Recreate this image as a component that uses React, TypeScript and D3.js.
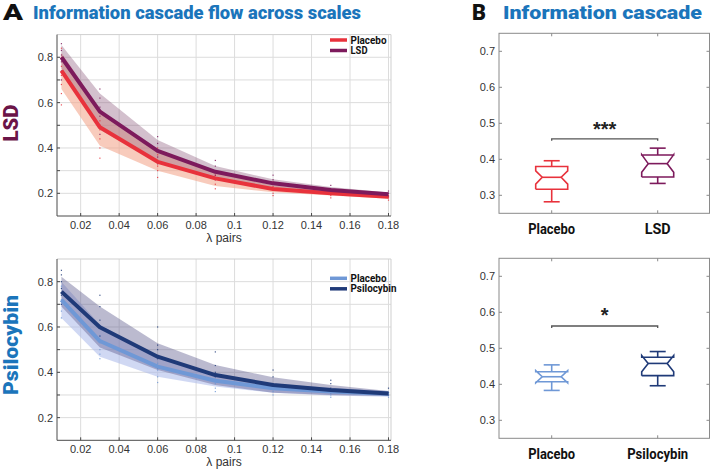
import React from "react";
import * as d3 from "d3";

// ---------- DATA ----------
const lambdaPairs = [0.01, 0.03, 0.06, 0.09, 0.12, 0.15, 0.18];
const xTickValues = [0.02, 0.04, 0.06, 0.08, 0.1, 0.12, 0.14, 0.16, 0.18];
const xTickLabels = ["0.02", "0.04", "0.06", "0.08", "0.1", "0.12", "0.14", "0.16", "0.18"];
const yGridValues = [0.2, 0.3, 0.4, 0.5, 0.6, 0.7, 0.8];
const yTickLabelValues = [0.2, 0.4, 0.6, 0.8];

// LSD panel
const lsdPlaceboMean = [0.741, 0.491, 0.339, 0.266, 0.219, 0.2, 0.185];
const lsdPlaceboLo = [0.66, 0.41, 0.3, 0.232, 0.205, 0.19, 0.176];
const lsdPlaceboHi = [0.82, 0.57, 0.38, 0.3, 0.234, 0.21, 0.193];
const lsdDrugMean = [0.8, 0.56, 0.387, 0.295, 0.244, 0.215, 0.196];
const lsdDrugLo = [0.75, 0.48, 0.34, 0.27, 0.226, 0.2, 0.188];
const lsdDrugHi = [0.854, 0.64, 0.435, 0.32, 0.262, 0.228, 0.204];
const lsdPlaceboPts = [
  [0.59, 0.64, 0.68, 0.72, 0.76, 0.8, 0.84],
  [0.355, 0.4, 0.44, 0.48, 0.52, 0.56],
  [0.27, 0.3, 0.32, 0.34, 0.37, 0.4],
  [0.22, 0.24, 0.26, 0.28, 0.3],
  [0.19, 0.2, 0.215, 0.23, 0.25],
  [0.18, 0.19, 0.2, 0.21],
  [0.17, 0.18, 0.19],
];
const lsdDrugPts = [
  [0.7, 0.74, 0.78, 0.81, 0.83, 0.86],
  [0.46, 0.5, 0.54, 0.58, 0.62, 0.66],
  [0.33, 0.36, 0.39, 0.42, 0.45],
  [0.26, 0.28, 0.3, 0.32, 0.345],
  [0.22, 0.24, 0.26, 0.28],
  [0.2, 0.22, 0.235],
  [0.185, 0.2, 0.21],
];

// Psilocybin panel
const psiPlaceboMean = [0.72, 0.538, 0.425, 0.363, 0.33, 0.315, 0.305];
const psiPlaceboLo = [0.64, 0.469, 0.38, 0.337, 0.31, 0.298, 0.292];
const psiPlaceboHi = [0.8, 0.61, 0.47, 0.39, 0.35, 0.332, 0.318];
const psiDrugMean = [0.756, 0.599, 0.469, 0.388, 0.344, 0.322, 0.307];
const psiDrugLo = [0.69, 0.51, 0.41, 0.344, 0.31, 0.3, 0.296];
const psiDrugHi = [0.822, 0.69, 0.528, 0.432, 0.378, 0.344, 0.318];
const psiPlaceboPts = [
  [0.64, 0.67, 0.7, 0.72, 0.75, 0.78],
  [0.46, 0.48, 0.5, 0.53, 0.56],
  [0.355, 0.38, 0.41, 0.44, 0.47],
  [0.315, 0.33, 0.35, 0.37, 0.39],
  [0.3, 0.315, 0.33, 0.345],
  [0.29, 0.3, 0.31, 0.32],
  [0.29, 0.3, 0.31],
];
const psiDrugPts = [
  [0.7, 0.74, 0.77, 0.8, 0.83, 0.85],
  [0.56, 0.6, 0.63, 0.69, 0.74],
  [0.42, 0.46, 0.5, 0.52, 0.6],
  [0.36, 0.38, 0.4, 0.43, 0.49],
  [0.33, 0.35, 0.38, 0.41],
  [0.31, 0.33, 0.35, 0.365],
  [0.3, 0.31, 0.33],
];

// Box plots (panel B)
const lsdBoxCategories = ["Placebo", "LSD"];
const lsdBoxes = [
  { min: 0.282, q1: 0.317, nLo: 0.331, med: 0.35, nHi: 0.368, q3: 0.38, max: 0.396 },
  { min: 0.333, q1: 0.351, nLo: 0.364, med: 0.388, nHi: 0.413, q3: 0.412, max: 0.431 },
];
const psiBoxCategories = ["Placebo", "Psilocybin"];
const psiBoxes = [
  { min: 0.383, q1: 0.407, nLo: 0.404, med: 0.421, nHi: 0.438, q3: 0.435, max: 0.454 },
  { min: 0.396, q1: 0.424, nLo: 0.435, med: 0.458, nHi: 0.48, q3: 0.475, max: 0.491 },
];
const boxYTicks = [0.3, 0.4, 0.5, 0.6, 0.7];
const lsdSig = { y: 0.457, label: "***" };
const psiSig = { y: 0.562, label: "*" };

// ---------- STYLE ----------
const TITLE_BLUE = "#1b75bb";
const LSD_LABEL = "#6b1548";
const RED = "#e8323c";
const PURPLE = "#7d1a5c";
const LBLUE = "#6f98d6";
const DBLUE = "#1f3a78";
const COND = "'Roboto', 'Liberation Sans', sans-serif";
const SANS = "'Liberation Sans', Arial, sans-serif";

// approximate text widths (px) of condensed labels in the reference
const labelWidth: Record<string, number> = { Placebo: 47, LSD: 26, Psilocybin: 61 };
const legendWidth: Record<string, number> = { Placebo: 36, LSD: 17, Psilocybin: 46 };

type Series = { mean: number[]; lo: number[]; hi: number[]; pts: number[][]; color: string; band: string; bandOpacity: number; name: string };

function LinePanel({ top, bottom, series, legendY }: { top: number; bottom: number; series: Series[]; legendY: number }) {
  const x = d3.scaleLinear().domain([0.0077, 0.1813]).range([57, 391]);
  const y = d3.scaleLinear().domain([0.1, 0.9]).range([bottom, top]);
  const line = d3
    .line<number>()
    .x((_, i) => x(lambdaPairs[i]))
    .y((d) => y(d));
  const x0 = 57, x1 = 391;
  return (
    <g>
      <rect x={x0} y={top} width={x1 - x0} height={bottom - top} fill="#fff" />
      {xTickValues.map((t) => (
        <line key={"gx" + t} x1={x(t)} x2={x(t)} y1={top} y2={bottom} stroke="#dcdcdc" strokeWidth={1} />
      ))}
      {yGridValues.map((t) => (
        <line key={"gy" + t} x1={x0} x2={x1} y1={y(t)} y2={y(t)} stroke="#dcdcdc" strokeWidth={1} />
      ))}
      <line x1={x0} x2={x1} y1={top} y2={top} stroke="#cfcfcf" />
      <line x1={x1} x2={x1} y1={top} y2={bottom} stroke="#cfcfcf" />
      {series.map((s) => {
        const a = d3
          .area<number>()
          .x((_, i) => x(lambdaPairs[i]))
          .y0((_, i) => y(s.lo[i]))
          .y1((_, i) => y(s.hi[i]));
        return <path key={"b" + s.name} d={a(s.mean) || ""} fill={s.band} fillOpacity={s.bandOpacity} stroke="none" />;
      })}
      {series.map((s) =>
        s.pts.map((arr, i) =>
          arr.map((v, j) => (
            <rect key={s.name + i + "-" + j} x={x(lambdaPairs[i]) - 0.6} y={y(v) - 0.6} width={1.2} height={1.2} fill={s.color} opacity={0.85} />
          ))
        )
      )}
      {series.map((s) => (
        <path key={"l" + s.name} d={line(s.mean) || ""} fill="none" stroke={s.color} strokeWidth={4} strokeLinejoin="round" />
      ))}
      <line x1={x0} x2={x0} y1={top} y2={bottom} stroke="#4a4a4a" strokeWidth={1} />
      <line x1={x0} x2={x1} y1={bottom} y2={bottom} stroke="#4a4a4a" strokeWidth={1} />
      {xTickValues.map((t, i) => (
        <g key={"xt" + t}>
          <line x1={x(t)} x2={x(t)} y1={bottom} y2={bottom - 3} stroke="#4a4a4a" />
          <text x={x(t)} y={bottom + 13} textAnchor="middle" fontFamily={SANS} fontSize={11} fill="#333">
            {xTickLabels[i]}
          </text>
        </g>
      ))}
      {yGridValues.map((t) => (
        <line key={"yt" + t} x1={x0} x2={x0 + 3} y1={y(t)} y2={y(t)} stroke="#4a4a4a" />
      ))}
      {yTickLabelValues.map((t) => (
        <text key={"yl" + t} x={53} y={y(t) + 4} textAnchor="end" fontFamily={SANS} fontSize={11} fill="#333">
          {d3.format(".1f")(t)}
        </text>
      ))}
      <text x={224} y={bottom + 26} textAnchor="middle" fontFamily={SANS} fontSize={12} fill="#333">
        λ pairs
      </text>
      {series.map((s, i) => (
        <g key={"lg" + s.name}>
          <line x1={330} x2={347} y1={legendY + i * 10.5} y2={legendY + i * 10.5} stroke={s.color} strokeWidth={3.5} />
          <text
            x={350.5}
            y={legendY + i * 10.5 + 3.6}
            fontFamily={COND}
            fontWeight="bold"
            fontSize={10}
            fill="#111"
            textLength={legendWidth[s.name]}
            lengthAdjust="spacingAndGlyphs"
          >
            {s.name}
          </text>
        </g>
      ))}
    </g>
  );
}

type Box = { min: number; q1: number; nLo: number; med: number; nHi: number; q3: number; max: number };

function BoxPanel({ top, bottom, cats, boxes, colors, sig, sigLabelY }: { top: number; bottom: number; cats: string[]; boxes: Box[]; colors: string[]; sig: { y: number; label: string }; sigLabelY: number }) {
  const x0 = 499, x1 = 709.5;
  const xb = d3.scalePoint<string>().domain(cats).range([551.7, 657.7]);
  const y = d3.scaleLinear().domain([0.25, 0.75]).range([bottom, top]);
  const hw = 16, inset = 6.5, cap = 8;
  return (
    <g>
      <rect x={x0} y={top} width={x1 - x0} height={bottom - top} fill="none" stroke="#8a8a8a" strokeWidth={1} />
      {boxYTicks.map((t) => (
        <g key={"t" + t}>
          <line x1={x0} x2={x0 + 3} y1={y(t)} y2={y(t)} stroke="#8a8a8a" />
          <line x1={x1} x2={x1 - 3} y1={y(t)} y2={y(t)} stroke="#8a8a8a" />
          <text x={495} y={y(t) + 4} textAnchor="end" fontFamily={SANS} fontSize={11} fill="#333">
            {d3.format(".1f")(t)}
          </text>
        </g>
      ))}
      {cats.map((c, i) => {
        const cx = xb(c) as number;
        const b = boxes[i];
        const L = cx - hw, R = cx + hw;
        const pts: [number, number][] = [
          [L, y(b.q1)], [L, y(b.nLo)], [L + inset, y(b.med)], [L, y(b.nHi)], [L, y(b.q3)],
          [R, y(b.q3)], [R, y(b.nHi)], [R - inset, y(b.med)], [R, y(b.nLo)], [R, y(b.q1)], [L, y(b.q1)],
        ];
        const p = d3.line()(pts) || "";
        return (
          <g key={c} stroke={colors[i]} strokeWidth={1.6} fill="none">
            <line x1={cx} x2={cx} y1={bottom} y2={bottom - 3} stroke="#8a8a8a" strokeWidth={1} />
            <line x1={cx} x2={cx} y1={top} y2={top + 3} stroke="#8a8a8a" strokeWidth={1} />
            <path d={p} />
            <line x1={L + inset} x2={R - inset} y1={y(b.med)} y2={y(b.med)} />
            <line x1={cx} x2={cx} y1={y(b.q3)} y2={y(b.max)} />
            <line x1={cx} x2={cx} y1={y(b.q1)} y2={y(b.min)} />
            <line x1={cx - cap} x2={cx + cap} y1={y(b.max)} y2={y(b.max)} />
            <line x1={cx - cap} x2={cx + cap} y1={y(b.min)} y2={y(b.min)} />
            <text
              x={cx}
              y={bottom + 21}
              textAnchor="middle"
              fontFamily={COND}
              fontWeight="bold"
              fontSize={15}
              fill="#111"
              stroke="none"
              textLength={labelWidth[c]}
              lengthAdjust="spacingAndGlyphs"
            >
              {c}
            </text>
          </g>
        );
      })}
      <path
        d={`M${xb(cats[0])},${y(sig.y) + 2}V${y(sig.y)}H${xb(cats[1])}V${y(sig.y) + 2}`}
        fill="none"
        stroke="#555"
        strokeWidth={1.3}
      />
      <text x={((xb(cats[0]) as number) + (xb(cats[1]) as number)) / 2} y={sigLabelY} textAnchor="middle" fontFamily={SANS} fontWeight="bold" fontSize={20} fill="#222">
        {sig.label}
      </text>
    </g>
  );
}

export default function App() {
  const lsdSeries: Series[] = [
    { name: "Placebo", mean: lsdPlaceboMean, lo: lsdPlaceboLo, hi: lsdPlaceboHi, pts: lsdPlaceboPts, color: RED, band: "#f3a88f", bandOpacity: 0.6 },
    { name: "LSD", mean: lsdDrugMean, lo: lsdDrugLo, hi: lsdDrugHi, pts: lsdDrugPts, color: PURPLE, band: "#8c5a7c", bandOpacity: 0.38 },
  ];
  const psiSeries: Series[] = [
    { name: "Placebo", mean: psiPlaceboMean, lo: psiPlaceboLo, hi: psiPlaceboHi, pts: psiPlaceboPts, color: LBLUE, band: "#a9b8ea", bandOpacity: 0.55 },
    { name: "Psilocybin", mean: psiDrugMean, lo: psiDrugLo, hi: psiDrugHi, pts: psiDrugPts, color: DBLUE, band: "#5c5a8c", bandOpacity: 0.42 },
  ];
  return (
    <div style={{ position: "absolute", left: 0, top: 0 }}>
      <svg width={711} height={470} style={{ display: "block", background: "#fff" }}>
        <text x={3} y={20} fontFamily={COND} fontWeight="900" fontSize={22} fill="#111" textLength={20} lengthAdjust="spacingAndGlyphs">A</text>
        <text x={33} y={19} fontFamily={COND} fontWeight="900" fontSize={19} fill={TITLE_BLUE} textLength={328} lengthAdjust="spacingAndGlyphs">
          Information cascade flow across scales
        </text>
        <text x={472} y={20} fontFamily={COND} fontWeight="900" fontSize={22} fill="#111" textLength={14} lengthAdjust="spacingAndGlyphs">B</text>
        <text x={503} y={19} fontFamily={COND} fontWeight="900" fontSize={19} fill={TITLE_BLUE} textLength={199} lengthAdjust="spacingAndGlyphs">
          Information cascade
        </text>
        <text transform="translate(18,123) rotate(-90)" textAnchor="middle" fontFamily={COND} fontWeight="900" fontSize={21} fill={LSD_LABEL} textLength={37} lengthAdjust="spacingAndGlyphs">
          LSD
        </text>
        <text transform="translate(18,345) rotate(-90)" textAnchor="middle" fontFamily={COND} fontWeight="900" fontSize={21} fill={TITLE_BLUE} textLength={100} lengthAdjust="spacingAndGlyphs">
          Psilocybin
        </text>
        <LinePanel top={34.6} bottom={216} series={lsdSeries} legendY={40} />
        <LinePanel top={259} bottom={440.3} series={psiSeries} legendY={278.3} />
        <BoxPanel top={33.3} bottom={213.3} cats={lsdBoxCategories} boxes={lsdBoxes} colors={[RED, PURPLE]} sig={lsdSig} sigLabelY={136} />
        <BoxPanel top={258.3} bottom={438.3} cats={psiBoxCategories} boxes={psiBoxes} colors={[LBLUE, DBLUE]} sig={psiSig} sigLabelY={322} />
      </svg>
    </div>
  );
}
